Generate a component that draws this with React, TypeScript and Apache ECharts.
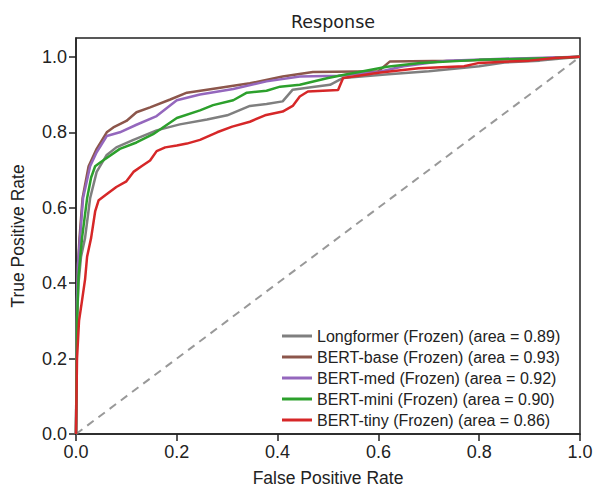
import React, { useEffect, useRef } from "react";
import * as echarts from "echarts";

const seriesNames = [
  "Longformer (Frozen) (area = 0.89)",
  "BERT-base (Frozen) (area = 0.93)",
  "BERT-med (Frozen) (area = 0.92)",
  "BERT-mini (Frozen) (area = 0.90)",
  "BERT-tiny (Frozen) (area = 0.86)",
];
const seriesColors = ["#7f7f7f", "#8c564b", "#9467bd", "#2ca02c", "#d62728"];

const longformer = [
  [0, 0], [0.002, 0.3], [0.005, 0.4], [0.01, 0.47], [0.018, 0.52], [0.028, 0.625],
  [0.041, 0.695], [0.061, 0.74], [0.08, 0.76], [0.114, 0.78], [0.16, 0.805],
  [0.206, 0.821], [0.26, 0.834], [0.3, 0.845], [0.345, 0.87], [0.378, 0.875],
  [0.41, 0.882], [0.43, 0.913], [0.47, 0.92], [0.504, 0.926], [0.53, 0.944],
  [0.62, 0.954], [0.7, 0.962], [0.76, 0.97], [0.8, 0.975], [0.85, 0.985],
  [0.92, 0.99], [1, 1],
];
const bertBase = [
  [0, 0], [0.002, 0.35], [0.004, 0.45], [0.007, 0.52], [0.013, 0.625], [0.025, 0.71],
  [0.041, 0.756], [0.061, 0.8], [0.074, 0.813], [0.1, 0.83], [0.12, 0.853],
  [0.147, 0.866], [0.187, 0.887], [0.22, 0.905], [0.26, 0.913], [0.345, 0.93],
  [0.41, 0.948], [0.47, 0.96], [0.6, 0.962], [0.623, 0.988], [0.75, 0.99],
  [0.9, 0.995], [1, 1],
];
const bertMed = [
  [0, 0], [0.002, 0.35], [0.004, 0.45], [0.008, 0.52], [0.014, 0.625], [0.028, 0.71],
  [0.041, 0.747], [0.061, 0.79], [0.087, 0.8], [0.12, 0.82], [0.16, 0.843],
  [0.2, 0.885], [0.246, 0.9], [0.312, 0.915], [0.378, 0.935], [0.444, 0.948],
  [0.52, 0.95], [0.6, 0.96], [0.65, 0.975], [0.736, 0.99], [0.85, 0.995], [1, 1],
];
const bertMini = [
  [0, 0], [0.002, 0.3], [0.005, 0.42], [0.012, 0.52], [0.022, 0.625], [0.03, 0.68],
  [0.038, 0.71], [0.048, 0.72], [0.087, 0.756], [0.12, 0.773], [0.153, 0.795],
  [0.2, 0.838], [0.246, 0.858], [0.272, 0.872], [0.312, 0.885], [0.339, 0.905],
  [0.378, 0.91], [0.405, 0.921], [0.444, 0.926], [0.5, 0.944], [0.53, 0.952],
  [0.617, 0.974], [0.683, 0.984], [0.8, 0.992], [0.95, 0.997], [1, 1],
];
const bertTiny = [
  [0, 0], [0.002, 0.2], [0.006, 0.3], [0.011, 0.345], [0.018, 0.41], [0.022, 0.47],
  [0.03, 0.52], [0.038, 0.59], [0.045, 0.62], [0.06, 0.635], [0.08, 0.655],
  [0.1, 0.67], [0.114, 0.695], [0.13, 0.71], [0.147, 0.725], [0.16, 0.75],
  [0.177, 0.76], [0.2, 0.765], [0.22, 0.77], [0.246, 0.78], [0.28, 0.8],
  [0.31, 0.815], [0.345, 0.828], [0.375, 0.845], [0.41, 0.855], [0.43, 0.87],
  [0.444, 0.895], [0.46, 0.908], [0.52, 0.912], [0.53, 0.944], [0.6, 0.958],
  [0.68, 0.97], [0.77, 0.975], [0.8, 0.984], [0.9, 0.99], [0.95, 0.997], [1, 1],
];
const chanceLine = [[0, 0], [1, 1]];

const tickValues = [0, 0.2, 0.4, 0.6, 0.8, 1.0];

export default function App() {
  const ref = useRef<HTMLDivElement>(null);
  useEffect(() => {
    if (!ref.current) return;
    const chart = echarts.init(ref.current, undefined, { renderer: "svg" });
    const seriesData = [longformer, bertBase, bertMed, bertMini, bertTiny];
    const font = "'Liberation Sans', Arial, sans-serif";
    const axisCommon = {
      type: "value" as const,
      min: 0,
      interval: 0.2,
      nameLocation: "middle" as const,
      nameTextStyle: { fontFamily: font, fontSize: 17.5, color: "#222" },
      axisLine: { show: true, lineStyle: { color: "#222", width: 1.5 } },
      axisTick: { show: true, length: 7, lineStyle: { color: "#222", width: 1.5 }, customValues: tickValues },
      axisLabel: {
        fontFamily: font, fontSize: 18, color: "#222", margin: 9,
        customValues: tickValues,
        formatter: (v: number) => v.toFixed(1),
      },
      splitLine: { show: false },
    };
    chart.setOption({
      animation: false,
      backgroundColor: "#fff",
      title: {
        text: "Response",
        left: 328, top: 8, textAlign: "center",
        textStyle: { fontFamily: "'DejaVu Sans', sans-serif", fontSize: 17.5, fontWeight: "normal", color: "#222" },
      },
      grid: {
        left: 76, right: 16, top: 38, bottom: 54,
        show: true, borderColor: "#222", borderWidth: 1.5, backgroundColor: "transparent",
      },
      xAxis: {
        ...axisCommon,
        max: 1,
        name: "False Positive Rate",
        nameGap: 35,
      },
      yAxis: {
        ...axisCommon,
        max: 1.05,
        name: "True Positive Rate",
        nameGap: 49,
      },
      legend: {
        orient: "vertical",
        left: 277,
        top: 323,
        icon: "rect",
        itemWidth: 30,
        itemHeight: 3,
        itemGap: 5,
        textStyle: { fontFamily: font, fontSize: 16, color: "#222", lineHeight: 16 },
        data: seriesNames.map((n, i) => ({ name: n, itemStyle: { color: seriesColors[i] } })),
      },
      series: [
        {
          type: "line",
          name: "chance",
          data: chanceLine,
          showSymbol: false,
          symbol: "none",
          silent: true,
          lineStyle: { color: "#999", width: 2, type: [8, 6] },
          z: 1,
        },
        ...seriesData.map((d, i) => ({
          type: "line",
          name: seriesNames[i],
          data: d,
          showSymbol: false,
          symbol: "none",
          color: seriesColors[i],
          lineStyle: { color: seriesColors[i], width: 2.5 },
          z: 2 + i,
        })),
      ],
    });
    return () => chart.dispose();
  }, []);
  return <div ref={ref} style={{ width: 596, height: 492, position: "absolute", left: 0, top: 0 }} />;
}
